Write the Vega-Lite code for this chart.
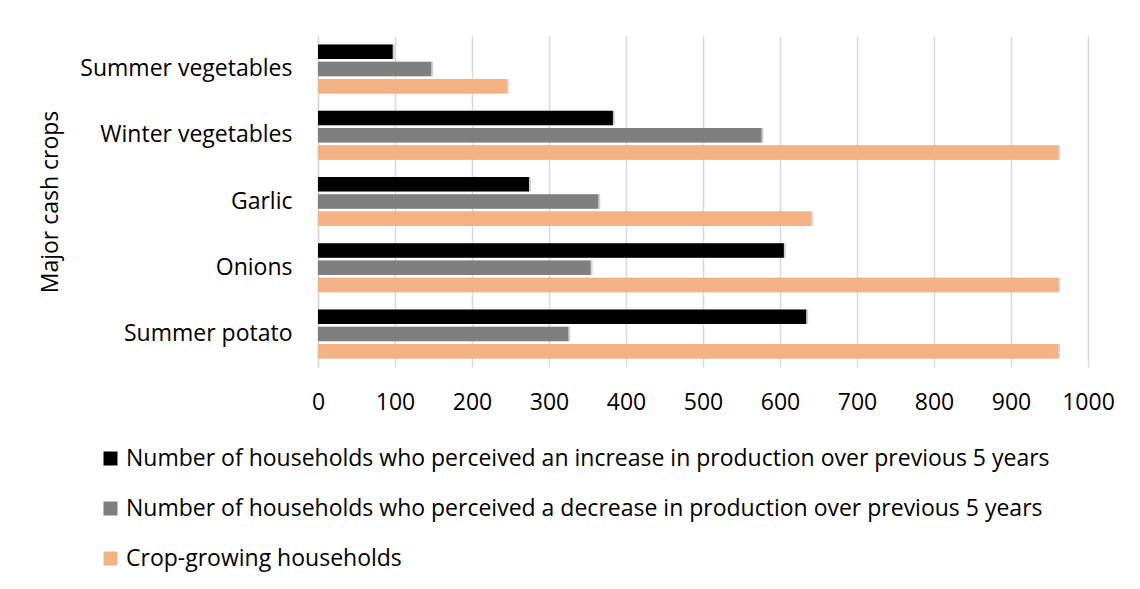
{
  "$schema": "https://vega.github.io/schema/vega-lite/v6.json",
  "width": 770,
  "height": 331,
  "autosize": {"type": "none"},
  "padding": {"left": 318, "top": 36, "right": 52, "bottom": 222},
  "background": "#ffffff",
  "data": {
    "values": [
      {"crop": "Summer vegetables", "series": "Number of households who perceived an increase in production over previous 5 years", "order": 1, "households": 97},
      {"crop": "Summer vegetables", "series": "Number of households who perceived a decrease in production over previous 5 years", "order": 2, "households": 147},
      {"crop": "Summer vegetables", "series": "Crop-growing households", "order": 3, "households": 245},
      {"crop": "Winter vegetables", "series": "Number of households who perceived an increase in production over previous 5 years", "order": 1, "households": 383},
      {"crop": "Winter vegetables", "series": "Number of households who perceived a decrease in production over previous 5 years", "order": 2, "households": 576},
      {"crop": "Winter vegetables", "series": "Crop-growing households", "order": 3, "households": 961},
      {"crop": "Garlic", "series": "Number of households who perceived an increase in production over previous 5 years", "order": 1, "households": 274},
      {"crop": "Garlic", "series": "Number of households who perceived a decrease in production over previous 5 years", "order": 2, "households": 364},
      {"crop": "Garlic", "series": "Crop-growing households", "order": 3, "households": 640},
      {"crop": "Onions", "series": "Number of households who perceived an increase in production over previous 5 years", "order": 1, "households": 605},
      {"crop": "Onions", "series": "Number of households who perceived a decrease in production over previous 5 years", "order": 2, "households": 354},
      {"crop": "Onions", "series": "Crop-growing households", "order": 3, "households": 961},
      {"crop": "Summer potato", "series": "Number of households who perceived an increase in production over previous 5 years", "order": 1, "households": 634},
      {"crop": "Summer potato", "series": "Number of households who perceived a decrease in production over previous 5 years", "order": 2, "households": 325},
      {"crop": "Summer potato", "series": "Crop-growing households", "order": 3, "households": 961}
    ]
  },
  "encoding": {
    "y": {
      "field": "crop",
      "type": "nominal",
      "sort": ["Summer vegetables", "Winter vegetables", "Garlic", "Onions", "Summer potato"],
      "scale": {"paddingInner": 0.26, "paddingOuter": 0.13},
      "axis": {
        "title": "Major cash crops",
        "titleFontSize": 23,
        "titleFontWeight": "normal",
        "titleX": -256,
        "labelFontSize": 23,
        "labelPadding": 26,
        "ticks": false,
        "domainColor": "#d9d9d9",
        "domainWidth": 1.5,
        "labelLimit": 400
      }
    },
    "yOffset": {
      "field": "order",
      "type": "ordinal",
      "scale": {"paddingInner": 0.16}
    },
    "x": {
      "field": "households",
      "type": "quantitative",
      "scale": {"domain": [0, 1000], "nice": false},
      "axis": {
        "title": null,
        "values": [0, 100, 200, 300, 400, 500, 600, 700, 800, 900, 1000],
        "format": "d",
        "labelFlush": false,
        "labelFontSize": 23,
        "labelPadding": 24,
        "ticks": false,
        "domain": false,
        "grid": true,
        "gridColor": "#d9d9d9",
        "gridWidth": 1.5
      }
    }
  },
  "layer": [
    {
      "mark": {"type": "bar", "color": "#000000", "opacity": 0.18, "xOffset": 2, "yOffset": 3}
    },
    {
      "mark": {"type": "bar"},
      "encoding": {
        "color": {
          "field": "series",
          "type": "nominal",
          "sort": [
            "Number of households who perceived an increase in production over previous 5 years",
            "Number of households who perceived a decrease in production over previous 5 years",
            "Crop-growing households"
          ],
          "scale": {
            "domain": [
              "Number of households who perceived an increase in production over previous 5 years",
              "Number of households who perceived a decrease in production over previous 5 years",
              "Crop-growing households"
            ],
            "range": ["#000000", "#7f7f7f", "#f4b183"]
          },
          "legend": {
            "title": null,
            "orient": "none",
            "legendX": -219,
            "legendY": 411,
            "direction": "vertical",
            "symbolType": "square",
            "symbolSize": 196,
            "symbolStrokeWidth": 0,
            "symbolOpacity": 1,
            "labelFontSize": 23,
            "labelLimit": 1100,
            "labelOffset": 4,
            "rowPadding": 26,
            "padding": 0
          }
        }
      }
    }
  ],
  "config": {
    "font": "Open Sans",
    "view": {"stroke": null},
    "axis": {"labelColor": "#000000", "titleColor": "#000000", "labelFont": "Open Sans", "titleFont": "Open Sans"},
    "legend": {"labelColor": "#000000", "labelFont": "Open Sans"}
  }
}
